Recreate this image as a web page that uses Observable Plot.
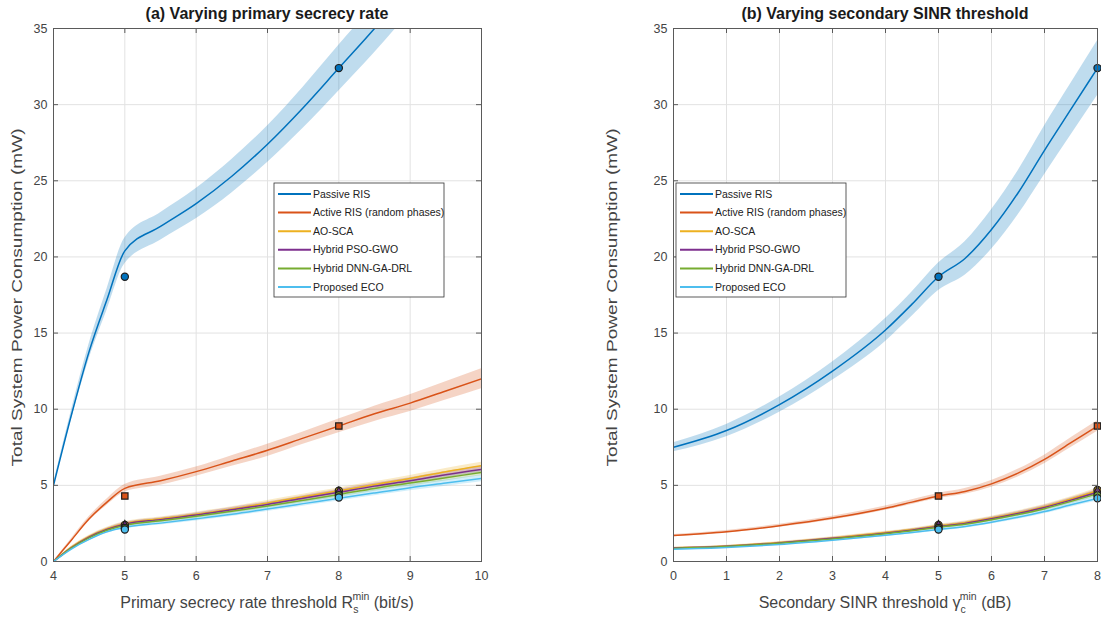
<!DOCTYPE html>
<html><head><meta charset="utf-8">
<script src="https://cdn.jsdelivr.net/npm/d3@7"></script>
<script src="https://cdn.jsdelivr.net/npm/@observablehq/plot@0.6"></script>
<style>
body{margin:0;background:#fff;}
#wrap{position:relative;width:1101px;height:622px;overflow:hidden;font-family:"Liberation Sans",Arial,sans-serif;}
#wrap svg{position:absolute;top:0;overflow:visible;}
</style></head><body><div id="wrap"></div>
<script>
// ---- shared ----
const seriesNames = ["Passive RIS","Active RIS (random phases)","AO-SCA","Hybrid PSO-GWO","Hybrid DNN-GA-DRL","Proposed ECO"];
const seriesColors = ["#0072BD","#D95319","#EDB120","#7E2F8E","#77AC30","#4DBEEE"];
const seriesSymbols = ["circle","square","circle","diamond","circle","circle"];
const yTicks = [0,5,10,15,20,25,30,35];

// ---- panel (a): varying primary secrecy rate ----
const xA = [4,4.25,4.5,4.75,5,5.5,6,6.5,7,7.5,8,8.5,9,9.5,10];
const xTicksA = [4,5,6,7,8,9,10];
const passiveA = [5,9.6,13.8,17.2,20.4,22.0,23.5,25.3,27.4,29.8,32.4,35.0,37.8,40.7,43.8];
const activeA  = [0,1.4,2.8,3.9,4.8,5.3,5.9,6.6,7.3,8.1,8.9,9.7,10.4,11.2,12.0];
const aoscaA   = [0,0.95,1.65,2.15,2.5,2.8,3.1,3.45,3.85,4.25,4.65,5.05,5.45,5.9,6.3];
const psoA     = [0,0.9,1.6,2.1,2.45,2.75,3.05,3.4,3.75,4.15,4.55,4.95,5.3,5.7,6.05];
const dnnA     = [0,0.88,1.55,2.05,2.38,2.68,2.97,3.3,3.65,4.02,4.4,4.8,5.15,5.5,5.85];
const ecoA     = [0,0.82,1.45,1.95,2.25,2.52,2.8,3.1,3.45,3.8,4.15,4.5,4.85,5.15,5.45];
const bandPassiveA = [0.1,0.3,0.5,0.7,0.85,0.9,1.0,1.1,1.2,1.35,1.5,1.6,1.7,1.8,1.9];
const bandActiveA  = [0,0.1,0.15,0.2,0.25,0.3,0.3,0.35,0.4,0.4,0.45,0.5,0.55,0.6,0.65];
const bandLowA     = [0,0.05,0.08,0.1,0.12,0.13,0.14,0.15,0.16,0.17,0.18,0.19,0.2,0.21,0.22];
const markXA = [5,8];
const markPassiveA = [18.7,32.4];
const markActiveA  = [4.3,8.9];
const markAoscaA   = [2.4,4.65];
const markPsoA     = [2.3,4.5];
const markDnnA     = [2.2,4.35];
const markEcoA     = [2.1,4.2];

// ---- panel (b): varying secondary SINR threshold ----
const xB = [0,1,2,3,4,4.5,5,5.5,6,6.5,7,7.5,8];
const xTicksB = [0,1,2,3,4,5,6,7,8];
const passiveB = [7.5,8.6,10.3,12.5,15.2,16.9,18.7,19.9,21.8,24.2,27.0,29.7,32.4];
const activeB  = [1.7,1.95,2.35,2.85,3.5,3.9,4.3,4.6,5.1,5.8,6.7,7.8,8.9];
const aoscaB   = [0.9,1.02,1.25,1.55,1.9,2.1,2.35,2.55,2.85,3.2,3.6,4.1,4.65];
const psoB     = [0.88,1.0,1.22,1.52,1.86,2.06,2.3,2.5,2.8,3.15,3.55,4.03,4.55];
const dnnB     = [0.86,0.98,1.2,1.48,1.82,2.02,2.25,2.45,2.74,3.08,3.47,3.95,4.45];
const ecoB     = [0.8,0.92,1.12,1.4,1.72,1.9,2.1,2.3,2.58,2.9,3.28,3.72,4.15];
const bandPassiveB = [0.3,0.4,0.5,0.6,0.75,0.8,0.9,1.1,1.3,1.45,1.6,1.7,1.8];
const bandActiveB  = [0.08,0.09,0.1,0.12,0.14,0.15,0.17,0.19,0.22,0.25,0.28,0.32,0.35];
const bandLowB     = [0.04,0.05,0.06,0.07,0.08,0.09,0.1,0.11,0.12,0.13,0.14,0.16,0.18];
const markXB = [5,8];
const markPassiveB = [18.7,32.4];
const markActiveB  = [4.3,8.9];
const markAoscaB   = [2.4,4.7];
const markPsoB     = [2.3,4.55];
const markDnnB     = [2.2,4.35];
const markEcoB     = [2.1,4.15];

function tidy(xs, lists, bands) {
  const rows = [];
  lists.forEach((vals, s) => vals.forEach((v, i) => rows.push({
    series: seriesNames[s], x: xs[i], y: v, lo: v - bands[s][i], hi: v + bands[s][i]
  })));
  return rows;
}
function tidyMarks(xs, lists) {
  const rows = [];
  lists.forEach((vals, s) => vals.forEach((v, i) => rows.push({series: seriesNames[s], x: xs[i], y: v})));
  return rows;
}

const H = 622, MT = 28, MB = 61;
const textColor = "#444", axisColor = "#5a5a5a";

function panel({left, width, marginLeft, marginRight, xDomain, xTicks, rows, marks, title, xLabel, yLabelX, legendX, legendY}) {
  const pw = width - marginLeft - marginRight, ph = H - MT - MB;
  const plot = Plot.plot({
    width, height: H, marginLeft, marginRight, marginTop: MT, marginBottom: MB,
    style: {fontFamily: "'Liberation Sans', Arial, sans-serif", fontSize: "12.5px", color: textColor, background: "transparent", overflow: "visible"},
    x: {domain: xDomain, label: null},
    y: {domain: [0, 35], label: null},
    color: {domain: seriesNames, range: seriesColors},
    symbol: {domain: seriesNames, range: seriesSymbols},
    marks: [
      Plot.gridX(xTicks, {stroke: "#e2e2e2", strokeOpacity: 1}),
      Plot.gridY(yTicks, {stroke: "#e2e2e2", strokeOpacity: 1}),
      Plot.areaY(rows, {x: "x", y1: "lo", y2: "hi", z: "series", fill: "series", fillOpacity: 0.25, curve: "monotone-x", clip: true}),
      Plot.lineY(rows, {x: "x", y: "y", z: "series", stroke: "series", strokeWidth: 1.5, curve: "monotone-x", clip: true}),
      Plot.dot(marks, {x: "x", y: "y", symbol: "series", fill: "series", stroke: "#1e1e1e", strokeWidth: 1.2, r: 3.6}),
      Plot.tickX(xTicks, {x: d => d, insetTop: ph - 5, stroke: axisColor}),
      Plot.tickX(xTicks, {x: d => d, insetBottom: ph - 5, stroke: axisColor}),
      Plot.tickY(yTicks, {y: d => d, insetRight: pw - 5, stroke: axisColor}),
      Plot.tickY(yTicks, {y: d => d, insetLeft: pw - 5, stroke: axisColor}),
      Plot.frame({stroke: axisColor}),
      Plot.axisX(xTicks, {tickSize: 0, tickPadding: 10, label: null}),
      Plot.axisY(yTicks, {tickSize: 0, tickPadding: 6, label: null})
    ]
  });
  plot.style.left = left + "px";
  const svg = d3.select(plot);
  const cx = marginLeft + pw / 2;
  svg.append("text").attr("x", cx).attr("y", 19).attr("text-anchor", "middle")
    .style("font-size", "16px").style("font-weight", "bold").attr("fill", "#1a1a1a").text(title);
  // y label
  svg.append("text").attr("transform", `translate(${yLabelX},${MT + ph / 2 + 3}) rotate(-90)`)
    .attr("text-anchor", "middle").style("font-size", "14.5px").attr("fill", textColor)
    .attr("textLength", 338).attr("lengthAdjust", "spacingAndGlyphs")
    .text("Total System Power Consumption (mW)");
  // x label with sub/superscript
  const xl = svg.append("text").attr("x", cx).attr("y", 608).attr("text-anchor", "middle")
    .style("font-size", "16px").attr("fill", textColor);
  xl.append("tspan").text(xLabel[0]);
  xl.append("tspan").attr("dy", 5).style("font-size", "10.5px").text(xLabel[1]);
  xl.append("tspan").attr("dx", -6).attr("dy", -13).style("font-size", "10.5px").text(xLabel[2]);
  xl.append("tspan").attr("dy", 8).text(xLabel[3]);
  // legend
  const lg = svg.append("g").attr("transform", `translate(${legendX},${legendY})`);
  const rowH = 18.6, lw = 170, lh = 114;
  lg.append("rect").attr("width", lw).attr("height", lh).attr("fill", "#fff").attr("stroke", "#333").attr("stroke-width", 0.8);
  seriesNames.forEach((n, i) => {
    const yy = 11 + i * rowH;
    lg.append("line").attr("x1", 4).attr("x2", 37).attr("y1", yy).attr("y2", yy)
      .attr("stroke", seriesColors[i]).attr("stroke-width", 2);
    lg.append("text").attr("x", 39).attr("y", yy).attr("dy", "0.35em").attr("text-anchor", "start")
      .style("font-size", "10.5px").attr("fill", "#222").text(n);
  });
  document.getElementById("wrap").appendChild(plot);
}

panel({
  left: 0, width: 550, marginLeft: 53, marginRight: 69,
  xDomain: [4, 10], xTicks: xTicksA,
  rows: tidy(xA, [passiveA, activeA, aoscaA, psoA, dnnA, ecoA], [bandPassiveA, bandActiveA, bandLowA, bandLowA, bandLowA, bandLowA]),
  marks: tidyMarks(markXA, [markPassiveA, markActiveA, markAoscaA, markPsoA, markDnnA, markEcoA]),
  title: "(a) Varying primary secrecy rate",
  xLabel: ["Primary secrecy rate threshold R", "s", "min", " (bit/s)"],
  yLabelX: 22,
  legendX: 274, legendY: 183
});
panel({
  left: 550, width: 551, marginLeft: 123, marginRight: 4,
  xDomain: [0, 8], xTicks: xTicksB,
  rows: tidy(xB, [passiveB, activeB, aoscaB, psoB, dnnB, ecoB], [bandPassiveB, bandActiveB, bandLowB, bandLowB, bandLowB, bandLowB]),
  marks: tidyMarks(markXB, [markPassiveB, markActiveB, markAoscaB, markPsoB, markDnnB, markEcoB]),
  title: "(b) Varying secondary SINR threshold",
  xLabel: ["Secondary SINR threshold \u03b3", "c", "min", " (dB)"],
  yLabelX: 67,
  legendX: 126, legendY: 183
});
</script></body></html>
